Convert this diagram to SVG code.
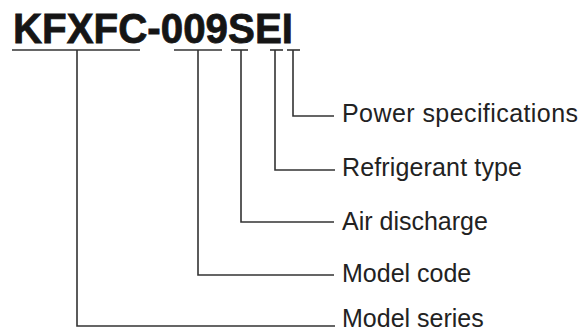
<svg xmlns="http://www.w3.org/2000/svg" width="583" height="333" viewBox="0 0 583 333">
<style>
.ln{fill:none;stroke:#333;stroke-width:1.6}
.lbl{font-family:"Liberation Sans",Arial,sans-serif;font-size:25px;fill:#222}
.title{font-family:"Liberation Sans",Arial,sans-serif;font-size:42px;font-weight:bold;fill:#151515;stroke:#151515;stroke-width:0.8}
</style>
<rect width="583" height="333" fill="#fff"/>
<g id="title"><text class="title" x="13" y="43" textLength="280" lengthAdjust="spacingAndGlyphs">KFXFC-009SEI</text></g>
<g id="underlines">
<line class="ln" x1="12" y1="50" x2="140" y2="50"/>
<line class="ln" x1="174" y1="50" x2="222" y2="50"/>
<line class="ln" x1="231" y1="50" x2="248" y2="50"/>
<line class="ln" x1="270" y1="50" x2="283" y2="50"/>
<line class="ln" x1="287" y1="50" x2="300" y2="50"/>
</g>
<g id="connectors">
<polyline class="ln" points="293,50 293,116 334,116"/>
<polyline class="ln" points="275,50 275,170 335,170"/>
<polyline class="ln" points="241,50 241,222 334,222"/>
<polyline class="ln" points="198,50 198,275 334,275"/>
<polyline class="ln" points="77,50 77,326 335,326"/>
</g>
<g id="power"><text class="lbl" x="342" y="122" textLength="236">Power specifications</text></g>
<g id="refrigerant"><text class="lbl" x="342" y="176" textLength="180">Refrigerant type</text></g>
<g id="air"><text class="lbl" x="342" y="230">Air discharge</text></g>
<g id="code"><text class="lbl" x="342" y="282">Model code</text></g>
<g id="series"><text class="lbl" x="342" y="327">Model series</text></g>
</svg>
